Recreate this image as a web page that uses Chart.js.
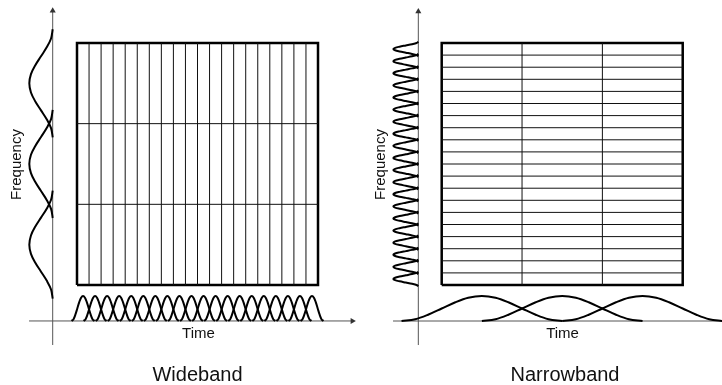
<!DOCTYPE html>
<html>
<head>
<meta charset="utf-8">
<script src="https://cdn.jsdelivr.net/npm/chart.js@4.4.1/dist/chart.umd.min.js"></script>
<style>
  html, body { margin: 0; padding: 0; background: #fff; }
  #wrap { position: relative; width: 722px; height: 385px; }
  .panel { position: absolute; top: 0; width: 361px; height: 385px; }
</style>
</head>
<body>
<div id="wrap">
  <div class="panel" style="left:0"><canvas id="wideband"></canvas></div>
  <div class="panel" style="left:361px"><canvas id="narrowband"></canvas></div>
</div>
<script>
// shape of one analysis window / filter band (offset from its centre, relative height)
const windowOffsets = [-1, -0.83, -0.67, -0.5, -0.33, -0.17, 0, 0.17, 0.33, 0.5, 0.67, 0.83, 1];
const windowShape = [0, 0.07, 0.25, 0.5, 0.75, 0.93, 1, 0.93, 0.75, 0.5, 0.25, 0.07, 0];

// wideband: short windows in time, few wide bands in frequency
const wbColumnEdges = [0, 1, 2, 3, 4, 5, 6, 7, 8, 9, 10, 11, 12, 13, 14, 15, 16, 17, 18, 19, 20];
const wbRowEdges = [0, 1, 2, 3];
const wbTimeWindows = [0.5, 1.5, 2.5, 3.5, 4.5, 5.5, 6.5, 7.5, 8.5, 9.5, 10.5, 11.5, 12.5, 13.5, 14.5, 15.5, 16.5, 17.5, 18.5, 19.5];
const wbFreqBands = [0.5, 1.5, 2.5];

// narrowband: long windows in time, many narrow bands in frequency
const nbColumnEdges = [0, 1, 2, 3];
const nbRowEdges = [0, 1, 2, 3, 4, 5, 6, 7, 8, 9, 10, 11, 12, 13, 14, 15, 16, 17, 18, 19, 20];
const nbTimeWindows = [0.5, 1.5, 2.5];
const nbFreqBands = [0.5, 1.5, 2.5, 3.5, 4.5, 5.5, 6.5, 7.5, 8.5, 9.5, 10.5, 11.5, 12.5, 13.5, 14.5, 15.5, 16.5, 17.5, 18.5, 19.5];

const FONT = '"Liberation Sans", Arial, Helvetica, sans-serif';

const panels = [
  {
    id: "wideband", title: "Wideband",
    columns: wbColumnEdges, rows: wbRowEdges, timeWindows: wbTimeWindows, freqBands: wbFreqBands,
    x: { min: -6.39, max: 23.568 }, y: { min: -1.24, max: 3.533 },
    origin: { t: -2.017, f: -0.446 },
    yAxisFrom: -0.744, yAxisTo: 3.40, xAxisFrom: -3.98, xAxisTo: 22.85, xArrow: true,
    timeHalf: 0.95, timeAmp: 0.31, freqHalf: 0.67, freqAmp: -1.94,
    timeLabel: [10.08, -0.657], freqLabel: [-4.606, 1.494], titleAt: [10.0, -1.19]
  },
  {
    id: "narrowband", title: "Narrowband",
    columns: nbColumnEdges, rows: nbRowEdges, timeWindows: nbTimeWindows, freqBands: nbFreqBands,
    x: { min: -1.0046, max: 3.489 }, y: { min: -8.264, max: 23.554 },
    origin: { t: -0.291, f: -2.975 },
    yAxisFrom: -4.96, yAxisTo: 22.6, xAxisFrom: -0.606, xAxisTo: 3.7, xArrow: false,
    timeHalf: 1.0, timeAmp: 2.066, freqHalf: 0.6, freqAmp: -0.311,
    timeLabel: [1.504, -4.38], freqLabel: [-0.706, 9.959], titleAt: [1.535, -7.93]
  }
];

function line(points, width, color) {
  return { data: points, showLine: true, borderColor: color, borderWidth: width,
           pointRadius: 0, fill: false, tension: 0 };
}

function buildDatasets(p) {
  const ds = [];
  const c0 = p.columns[0], c1 = p.columns[p.columns.length - 1];
  const r0 = p.rows[0], r1 = p.rows[p.rows.length - 1];
  // inner grid lines
  p.columns.slice(1, -1).forEach(c => ds.push(line([{ x: c, y: r0 }, { x: c, y: r1 }], 1, "#111")));
  p.rows.slice(1, -1).forEach(r => ds.push(line([{ x: c0, y: r }, { x: c1, y: r }], 1, "#111")));
  // outer frame
  ds.push(line([{ x: c0, y: r0 }, { x: c1, y: r0 }, { x: c1, y: r1 }, { x: c0, y: r1 }, { x: c0, y: r0 }], 2.5, "#000"));
  // time windows along the time axis
  p.timeWindows.forEach(c => {
    const pts = windowOffsets.map((o, i) => ({ x: c + o * p.timeHalf, y: p.origin.f + windowShape[i] * p.timeAmp }));
    ds.push({ ...line(pts, 2, "#000"), tension: 0.35 });
  });
  // filter bands along the frequency axis
  p.freqBands.forEach(c => {
    const pts = windowOffsets.map((o, i) => ({ x: p.origin.t + windowShape[i] * p.freqAmp, y: c + o * p.freqHalf }));
    ds.push({ ...line(pts, 2, "#000"), tension: 0.35 });
  });
  // axes
  ds.push({ ...line([{ x: p.origin.t, y: p.yAxisFrom }, { x: p.origin.t, y: p.yAxisTo }], 1, "#555"),
            pointRadius: [0, 3.5], pointStyle: "triangle", rotation: 0,
            pointBackgroundColor: "#333", pointBorderColor: "#333", pointBorderWidth: 0 });
  ds.push({ ...line([{ x: p.xAxisFrom, y: p.origin.f }, { x: p.xAxisTo, y: p.origin.f }], 1, "#555"),
            pointRadius: [0, p.xArrow ? 3.5 : 0], pointStyle: "triangle", rotation: 90,
            pointBackgroundColor: "#333", pointBorderColor: "#333", pointBorderWidth: 0 });
  return ds;
}

const labelPlugin = {
  id: "panelLabels",
  afterDatasetsDraw(chart, args, opts) {
    const { ctx, scales: { x, y } } = chart;
    ctx.save();
    ctx.fillStyle = "#111";
    ctx.textAlign = "center";
    ctx.textBaseline = "alphabetic";
    opts.items.forEach(item => {
      ctx.font = item.font;
      ctx.save();
      ctx.translate(x.getPixelForValue(item.at[0]), y.getPixelForValue(item.at[1]));
      if (item.rotate) ctx.rotate(item.rotate);
      ctx.fillText(item.text, 0, 0);
      ctx.restore();
    });
    ctx.restore();
  }
};

panels.forEach(p => {
  new Chart(document.getElementById(p.id), {
    type: "scatter",
    data: { datasets: buildDatasets(p) },
    options: {
      responsive: true,
      maintainAspectRatio: false,
      animation: false,
      layout: { padding: 0, autoPadding: false },
      scales: {
        x: { type: "linear", min: p.x.min, max: p.x.max, display: false },
        y: { type: "linear", min: p.y.min, max: p.y.max, display: false }
      },
      plugins: {
        legend: { display: false },
        tooltip: { enabled: false },
        panelLabels: {
          items: [
            { text: "Time", at: p.timeLabel, font: "15px " + FONT },
            { text: "Frequency", at: p.freqLabel, font: "15px " + FONT, rotate: -Math.PI / 2 },
            { text: p.title, at: p.titleAt, font: "20px " + FONT }
          ]
        }
      }
    },
    plugins: [labelPlugin]
  });
});
</script>
</body>
</html>
